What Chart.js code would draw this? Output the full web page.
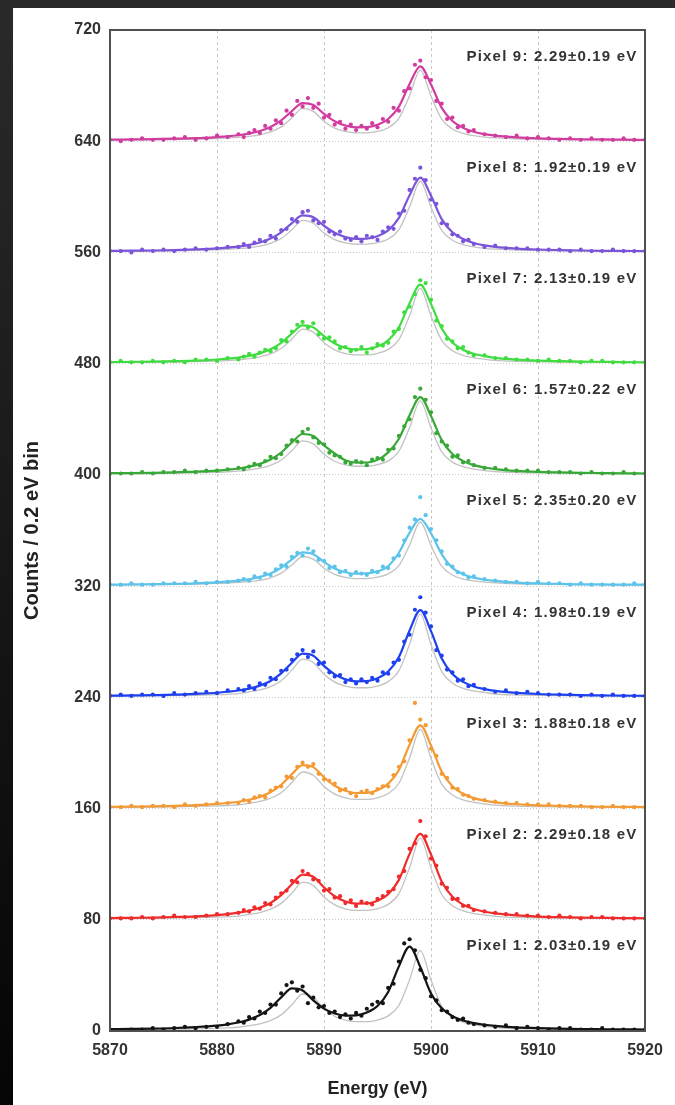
<!DOCTYPE html>
<html>
<head>
<meta charset="UTF-8">
<title>Pixel spectra</title>
<script src="https://cdn.jsdelivr.net/npm/chart.js"></script>
<style>
  html, body { margin: 0; padding: 0; }
  body {
    width: 675px;
    height: 1105px;
    position: relative;
    overflow: hidden;
    background: linear-gradient(#2a2a2a, #050505);
  }
  #panel {
    position: absolute;
    left: 13px;
    top: 8px;
    width: 662px;
    height: 1097px;
    background: #fff;
  }
  canvas { display: block; }
</style>
</head>
<body>
<div id="panel"><canvas id="spectra" width="662" height="1097"></canvas></div>
<script>
// energies (eV) where the fitted curves are sampled
var fitX = [5870,5872,5874,5876,5878,5880,5881,5882,5883,5884,5885,5886,5887,5888,5889,5890,5891,5892,5893,5894,
  5895,5896,5897,5898,5899,5900,5901,5902,5903,5904,5905,5906,5908,5910,5912,5914,5916,5918,5920];

// energies of the measured points
var pointX = [5870,5871,5872,5873,5874,5875,5876,5877,5878,5879,5880,5881,
  5882,5882.5,5883,5883.5,5884,5884.5,5885,5885.5,5886,5886.5,5887,5887.5,5888,5888.5,5889,5889.5,5890,5890.5,
  5891,5891.5,5892,5892.5,5893,5893.5,5894,5894.5,5895,5895.5,5896,5896.5,5897,5897.5,5898,5898.5,5899,5899.5,
  5900,5900.5,5901,5901.5,5902,5902.5,5903,5903.5,5904,
  5905,5906,5907,5908,5909,5910,5911,5912,5913,5914,5915,5916,5917,5918,5919,5920];

var offsets = [0, 80, 160, 240, 320, 400, 480, 560, 640];
var yTicks = [0, 80, 160, 240, 320, 400, 480, 560, 640, 720];
var xTicks = [5870, 5880, 5890, 5900, 5910, 5920];

var pixelLabels = [
  'Pixel 1: 2.03\u00b10.19 eV', 'Pixel 2: 2.29\u00b10.18 eV', 'Pixel 3: 1.88\u00b10.18 eV',
  'Pixel 4: 1.98\u00b10.19 eV', 'Pixel 5: 2.35\u00b10.20 eV', 'Pixel 6: 1.57\u00b10.22 eV',
  'Pixel 7: 2.13\u00b10.19 eV', 'Pixel 8: 1.92\u00b10.19 eV', 'Pixel 9: 2.29\u00b10.19 eV'
];
var pixelColors = ['#141414', '#ef2b2b', '#f39a35', '#1f40ee', '#5cc3ea', '#38a838', '#40dd40', '#7b55d9', '#d13c9f'];

// fitted curves, counts above each spectrum's own baseline
var fit1 = [1.3,1.5,1.75,2.15,2.85,3.9,4.8,6.1,8.2,11.5,16.7,24.2,30.6,29.1,22.0,16.1,12.6,11.1,11.3,13.3,18.0,28.1,46.5,60.7,46.0,27.0,16.3,10.7,7.6,5.7,4.5,3.7,2.6,2.1,1.7,1.4,1.25,1.15,1.05];
var fit2 = [1.2,1.4,1.6,2.0,2.5,3.4,4.1,5.1,6.5,8.7,12.1,17.7,25.6,32.5,30.9,23.3,16.9,13.2,11.6,11.7,13.7,18.4,28.7,47.4,61.8,46.9,27.6,16.6,10.9,7.7,5.8,4.6,3.1,2.3,1.9,1.6,1.4,1.2,1.1];
var fit3 = [1.2,1.4,1.6,1.9,2.4,3.3,4.0,4.9,6.3,8.4,11.7,17.1,24.8,31.3,29.8,22.5,16.4,12.8,11.2,11.3,13.2,17.9,27.8,45.9,59.9,45.4,26.7,16.1,10.6,7.5,5.7,4.5,3.1,2.3,1.9,1.5,1.3,1.2,1.1];
var fit4 = [1.2,1.4,1.6,1.9,2.5,3.3,4.0,4.9,6.3,8.4,11.8,17.2,24.9,31.4,29.9,22.6,16.5,12.9,11.5,11.6,13.7,18.6,29.0,48.1,62.7,47.6,27.9,16.8,11.1,7.8,5.9,4.6,3.2,2.4,1.9,1.6,1.4,1.2,1.1];
var fit5 = [1.1,1.2,1.4,1.6,2.0,2.7,3.2,3.9,4.9,6.6,9.1,13.2,19.2,24.2,23.0,17.4,12.7,10.0,8.9,9.1,10.6,14.4,24.0,38.5,48.4,38.0,23.0,13.1,8.6,6.1,4.6,3.7,2.5,1.9,1.6,1.3,1.2,1.0,1.0];
var fit6 = [1.2,1.3,1.5,1.8,2.3,3.1,3.8,4.6,5.9,7.9,11.1,16.1,23.3,29.4,28.0,21.2,15.4,10.5,8.8,8.9,10.8,16.2,26.0,42.9,56.0,42.4,25.0,15.0,9.9,7.0,5.3,4.2,2.9,2.2,1.8,1.5,1.3,1.1,1.0];
var fit7 = [1.1,1.3,1.5,1.8,2.2,3.0,3.6,4.4,5.6,7.4,10.3,15.0,21.7,27.5,26.1,19.8,14.5,11.4,10.2,10.4,12.3,16.8,26.2,43.5,56.8,43.0,25.3,15.2,10.0,7.1,5.4,4.2,2.9,2.2,1.8,1.5,1.3,1.1,1.0];
var fit8 = [1.1,1.3,1.4,1.7,2.2,2.9,3.5,4.2,5.4,7.2,10.0,14.5,21.1,26.6,25.3,19.2,14.1,11.0,9.8,10.0,11.7,15.9,24.9,41.2,53.8,40.8,24.0,14.5,9.6,6.8,5.1,4.0,2.8,2.1,1.7,1.4,1.2,1.1,1.0];
var fit9 = [1.1,1.3,1.5,1.8,2.2,3.0,3.5,4.3,5.5,7.4,10.3,15.0,21.7,27.4,26.0,19.7,14.4,11.3,10.0,10.1,11.8,16.0,24.9,41.2,53.8,40.8,24.0,14.5,9.6,6.8,5.1,4.0,2.8,2.1,1.7,1.4,1.3,1.1,1.0];

// grey reference line shape for each pixel
var gray1 = [0.9,0.9,1.0,1.2,1.5,1.9,2.2,2.7,3.8,5.2,7.5,11.6,18.9,26.6,24.2,16.1,10.6,7.8,6.7,6.7,7.8,10.9,18.5,36.9,57.8,36.7,17.8,9.9,6.3,4.5,3.4,2.4,1.7,1.4,1.2,1.1,1.0,0.9,0.9];
var gray2 = [0.9,0.9,1.0,1.2,1.5,1.9,2.2,2.7,3.9,5.2,7.6,11.8,19.2,27.1,24.7,16.4,10.7,7.9,6.8,6.8,8.0,11.1,18.8,37.6,58.8,37.3,18.2,10.1,6.4,4.5,3.4,2.4,1.7,1.4,1.2,1.1,1.0,0.9,0.9];
var gray3 = [0.9,0.9,1.0,1.2,1.5,1.9,2.2,2.7,3.8,5.1,7.4,11.4,18.7,26.3,23.9,15.9,10.4,7.7,6.6,6.6,7.7,10.8,18.2,36.5,57.0,36.2,17.6,9.8,6.3,4.4,3.3,2.4,1.7,1.4,1.2,1.1,1.0,0.9,0.9];
var gray4 = [0.9,0.9,1.0,1.2,1.5,1.9,2.2,2.7,3.9,5.3,7.7,12.0,19.6,27.5,25.1,16.6,10.9,8.1,6.9,6.9,8.1,11.3,19.1,38.2,59.8,37.9,18.5,10.2,6.5,4.6,3.5,2.4,1.7,1.4,1.2,1.1,1.0,0.9,0.9];
var gray5 = [0.9,0.9,1.0,1.2,1.5,1.9,2.2,2.7,3.2,4.2,6.0,9.3,15.2,21.3,19.4,12.9,8.5,6.3,5.4,5.4,6.4,8.8,14.8,29.5,46.1,29.3,14.3,8.0,5.1,3.7,2.8,2.4,1.7,1.4,1.2,1.1,1.0,0.9,0.9];
var gray6 = [0.9,0.9,1.0,1.2,1.5,1.9,2.2,2.7,3.6,4.8,6.9,10.7,17.5,24.5,22.3,14.9,9.8,7.2,6.2,6.2,7.3,10.1,17.0,34.0,53.2,33.8,16.5,9.2,5.9,4.1,3.1,2.4,1.7,1.4,1.2,1.1,1.0,0.9,0.9];
var gray7 = [0.9,0.9,1.0,1.2,1.5,1.9,2.2,2.7,3.6,4.9,7.0,10.9,17.7,24.9,22.7,15.1,9.9,7.3,6.3,6.3,7.4,10.3,17.3,34.6,54.1,34.4,16.7,9.3,6.0,4.2,3.2,2.4,1.7,1.4,1.2,1.1,1.0,0.9,0.9];
var gray8 = [0.9,0.9,1.0,1.2,1.5,1.9,2.2,2.7,3.5,4.5,6.5,10.0,16.3,23.0,21.0,14.0,9.2,6.9,5.9,6.0,7.0,9.7,16.4,32.8,51.2,32.5,15.9,8.8,5.7,4.0,3.0,2.4,1.7,1.4,1.2,1.1,1.0,0.9,0.9];
var gray9 = [0.9,0.9,1.0,1.2,1.5,1.9,2.2,2.7,3.5,4.6,6.7,10.3,16.8,23.6,21.5,14.3,9.4,7.0,6.0,6.0,7.0,9.7,16.4,32.8,51.2,32.5,15.9,8.8,5.7,4.0,3.0,2.4,1.7,1.4,1.2,1.1,1.0,0.9,0.9];

// measured counts per 0.2 eV bin, above each baseline
var pts1 = [1,0,1,1,2,1,2,3,2,3,3,5,
  7,6,10,9,14,13,19,19,27,33,35,29,32,20,24,17,18,13,14,10,12,9,13,11,16,19,21,20,31,34,50,63,66,58,44,38,25,22,15,14,10,8,9,6,5,
  4,3,4,2,3,2,1,2,2,1,1,2,1,1,1,1];
var pts2 = [1,1,1,2,1,2,3,2,2,3,4,4,
  5,7,6,9,8,12,11,16,19,21,28,27,35,33,29,28,21,22,16,17,12,14,10,13,12,11,15,17,20,22,31,35,51,55,71,60,44,39,26,23,15,15,10,10,7,
  6,5,4,4,3,3,2,3,2,1,2,2,1,1,1,1];
var pts3 = [1,1,2,1,2,2,1,3,2,3,4,4,
  4,6,5,8,9,8,13,15,16,23,22,30,33,30,32,25,21,20,18,13,14,11,9,12,13,11,14,16,16,24,30,34,49,76,64,60,43,38,25,22,15,14,10,9,7,
  6,5,4,4,3,3,3,2,2,2,1,1,2,1,1,1];
var pts4 = [1,2,1,2,2,1,3,2,3,4,3,5,
  6,5,8,6,10,9,14,13,19,20,27,31,34,29,33,24,25,18,15,16,11,13,10,13,11,14,12,18,17,25,27,40,45,63,72,61,51,34,30,20,18,12,13,8,9,
  6,4,5,3,4,3,2,2,2,1,2,1,2,1,1,1];
var pts5 = [1,1,2,1,1,2,2,2,3,2,3,3,
  4,5,4,7,6,9,8,12,15,14,21,24,22,27,25,19,18,13,14,10,11,8,10,9,8,11,10,14,13,20,22,33,42,48,64,51,41,33,25,16,14,10,9,6,7,
  5,4,3,3,2,3,2,2,1,2,1,1,1,1,2,1];
var pts6 = [1,1,1,2,1,2,2,3,2,3,3,4,
  5,4,6,8,7,10,13,12,15,21,25,24,31,33,27,23,22,16,14,13,9,8,10,9,7,11,12,11,18,19,28,35,40,56,62,54,45,30,24,21,13,14,9,10,7,
  5,5,4,3,3,3,2,2,2,1,2,1,1,2,1,1];
var pts7 = [1,2,1,1,2,1,2,1,3,3,2,4,
  3,5,7,5,8,10,9,11,17,16,23,28,30,26,29,21,18,19,16,11,12,9,10,12,8,11,14,13,15,23,25,37,41,50,60,58,46,31,27,18,16,11,12,8,6,
  6,4,4,3,3,2,3,2,2,1,2,2,1,1,1,1];
var pts8 = [1,1,0,2,1,2,1,2,3,2,3,4,
  4,6,4,7,9,8,12,10,16,17,24,22,29,30,23,21,22,15,13,15,10,9,11,8,12,11,9,15,18,17,28,30,45,53,61,52,38,35,21,20,13,12,8,9,6,
  4,5,3,3,3,2,2,2,1,2,1,1,2,1,1,1];
var pts9 = [1,0,1,2,1,1,2,3,1,2,4,3,
  5,3,6,8,6,11,9,15,13,22,19,29,25,31,24,27,17,19,12,14,9,12,8,11,9,13,10,16,14,24,22,36,38,55,58,46,44,29,27,16,17,10,11,7,8,
  5,4,3,4,2,3,2,1,2,1,2,1,1,2,1,1];

var fits = [fit1, fit2, fit3, fit4, fit5, fit6, fit7, fit8, fit9];
var grays = [gray1, gray2, gray3, gray4, gray5, gray6, gray7, gray8, gray9];
var points = [pts1, pts2, pts3, pts4, pts5, pts6, pts7, pts8, pts9];

function shifted(xs, ys, off) {
  return xs.map(function (x, k) { return { x: x, y: off + ys[k] }; });
}

var datasets = [];
for (var i = 0; i < 9; i++) {
  datasets.push({
    type: 'line',
    data: shifted(fitX, fits[i], offsets[i]),
    borderColor: pixelColors[i],
    borderWidth: 2.2,
    pointRadius: 0,
    cubicInterpolationMode: 'monotone',
    order: 0
  });
  datasets.push({
    type: 'scatter',
    data: shifted(pointX, points[i], offsets[i]),
    backgroundColor: pixelColors[i],
    borderWidth: 0,
    pointRadius: 2.1,
    order: 1
  });
  datasets.push({
    type: 'line',
    data: shifted(fitX, grays[i], offsets[i]),
    borderColor: '#c2c2c2',
    borderWidth: 1.3,
    pointRadius: 0,
    cubicInterpolationMode: 'monotone',
    order: 2
  });
}

// frame round the plot area and the pixel captions
var decorations = {
  id: 'decorations',
  afterDatasetsDraw: function (chart) {
    var ctx = chart.ctx, a = chart.chartArea;
    var xs = chart.scales.x, ys = chart.scales.y;
    ctx.save();
    ctx.font = 'bold 15px "Liberation Sans", Arial, sans-serif';
    ctx.letterSpacing = '1.2px';
    ctx.fillStyle = '#333';
    ctx.textAlign = 'right';
    ctx.textBaseline = 'middle';
    for (var i = 0; i < 9; i++) {
      ctx.fillText(pixelLabels[i], xs.getPixelForValue(5919.3), ys.getPixelForValue(offsets[i] + 61));
    }
    ctx.strokeStyle = '#505050';
    ctx.lineWidth = 2;
    ctx.strokeRect(a.left, a.top, a.right - a.left, a.bottom - a.top);
    ctx.restore();
  }
};

var tickFont = { family: '"Liberation Sans", Arial, sans-serif', size: 16, weight: 'bold' };

new Chart(document.getElementById('spectra').getContext('2d'), {
  type: 'scatter',
  data: { datasets: datasets },
  plugins: [decorations],
  options: {
    responsive: false,
    animation: false,
    layout: { padding: { top: 22, right: 30, left: 0, bottom: 0 } },
    plugins: { legend: { display: false }, tooltip: { enabled: false } },
    scales: {
      x: {
        type: 'linear',
        min: xTicks[0],
        max: xTicks[xTicks.length - 1],
        afterBuildTicks: function (s) { s.ticks = xTicks.map(function (v) { return { value: v }; }); },
        afterFit: function (s) { s.height = 74; },
        ticks: { font: tickFont, color: '#333', padding: 10, callback: function (v) { return String(v); } },
        grid: {
          drawTicks: false,
          lineWidth: 1,
          color: function (c) {
            var v = c.tick && c.tick.value;
            return (v === xTicks[0] || v === xTicks[xTicks.length - 1]) ? 'rgba(0,0,0,0)' : '#c8c8c8';
          }
        },
        border: { display: false, dash: [3, 3] },
        title: {
          display: true, text: 'Energy (eV)', color: '#222', padding: { top: 0, bottom: 5 },
          font: { family: '"Liberation Sans", Arial, sans-serif', size: 18, weight: 'bold' }
        }
      },
      y: {
        type: 'linear',
        min: yTicks[0],
        max: yTicks[yTicks.length - 1],
        afterBuildTicks: function (s) { s.ticks = yTicks.map(function (v) { return { value: v }; }); },
        afterFit: function (s) { s.width = 97; },
        ticks: { font: tickFont, color: '#333', padding: 9, callback: function (v) { return String(v); } },
        grid: {
          drawTicks: false,
          lineWidth: 1,
          color: function (c) {
            var v = c.tick && c.tick.value;
            return (v === yTicks[0] || v === yTicks[yTicks.length - 1]) ? 'rgba(0,0,0,0)' : '#c8c8c8';
          }
        },
        border: { display: false, dash: [1, 2] },
        title: {
          display: true, text: 'Counts / 0.2 eV bin', color: '#222', padding: { top: 7, bottom: 0 },
          font: { family: '"Liberation Sans", Arial, sans-serif', size: 20, weight: 'bold' }
        }
      }
    }
  }
});
</script>
</body>
</html>
